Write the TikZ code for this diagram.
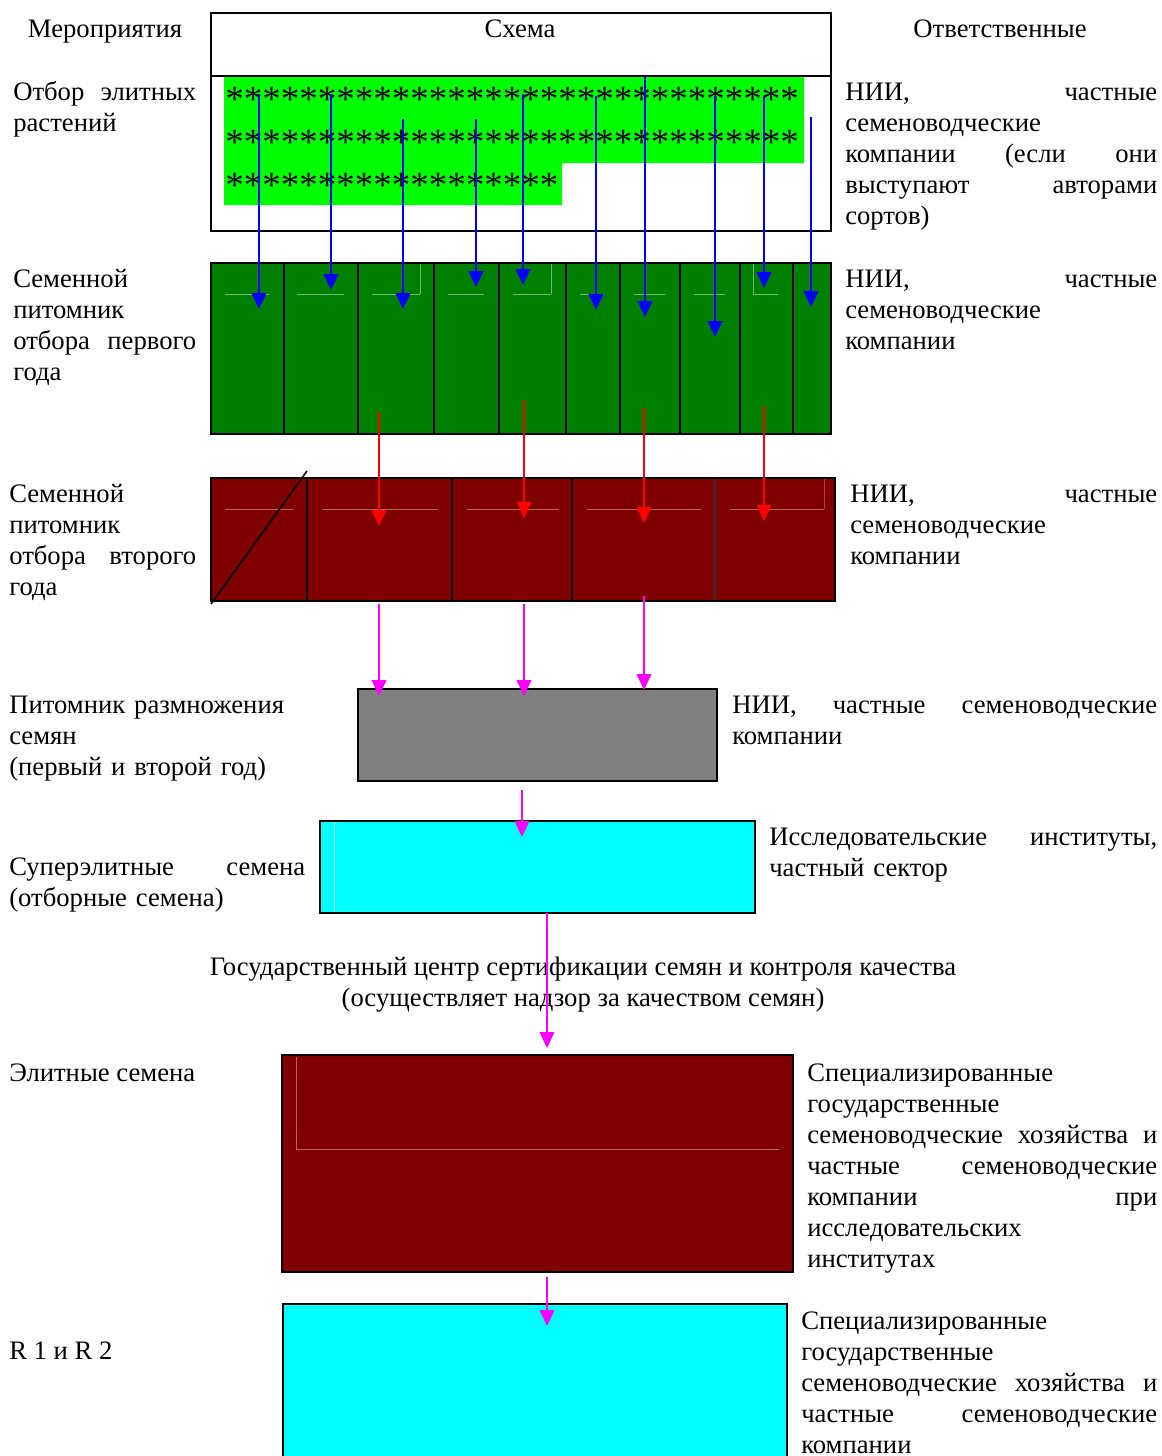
\documentclass[tikz,border=0pt]{standalone}
\usepackage{fontspec}
\setmainfont{Liberation Serif}
\usetikzlibrary{arrows.meta}
\definecolor{seedgreen}{RGB}{0,128,0}
\definecolor{seedlime}{RGB}{0,255,0}
\definecolor{seedred}{RGB}{128,0,0}
\definecolor{seedcyan}{RGB}{0,255,255}
\definecolor{seedgray}{RGB}{128,128,128}
\definecolor{seedblue}{RGB}{0,0,255}
\definecolor{seedscarlet}{RGB}{255,0,0}
\definecolor{seedpink}{RGB}{255,0,255}
\newcommand{\bodyfont}{\fontsize{20}{23.25}\selectfont}
\newcommand{\starfont}{\fontsize{27.75}{28}\selectfont}

\begin{document}
\begin{tikzpicture}[
  x=0.75pt, y=-0.75pt,
  frame/.style={draw=black, line width=1.5pt},
  sep/.style={draw=black, line width=1.5pt},
  ghost/.style={line width=0.6pt},
  arrowbase/.style={line width=1.6pt, -{Triangle[width=11pt,length=12pt]}},
  bluearrow/.style={arrowbase, draw=seedblue},
  redarrow/.style={arrowbase, draw=seedscarlet, line width=1.4pt},
  pinkarrow/.style={arrowbase, draw=seedpink, line width=1.4pt},
  txt/.style={anchor=base west, inner sep=0pt, align=left, font=\bodyfont},
  head/.style={anchor=base, inner sep=0pt, font=\bodyfont},
  stars/.style={anchor=base west, inner sep=0pt, font=\starfont}
]
\useasboundingbox (0,0) rectangle (1162,1456);
\clip (0,0) rectangle (1162,1456);

% column heads
\node[head] (hdact) at (105,37) {Мероприятия};
\node[head] (hdscheme) at (520,37) {Схема};
\node[head] (hdresp) at (1000,37) {Ответственные};

% selection of elite plants
\draw[frame] (211,13) rectangle (831,231);
\draw[frame] (211,76) -- (831,76);
\fill[seedlime] (224,77) -- (804,77) -- (804,163) -- (562,163) -- (562,205) -- (224,205) -- cycle;
\node[stars] (row1) at (225,111) {*******************************};
\node[stars] (row2) at (225,154) {*******************************};
\node[stars] (row3) at (225,197) {******************};

% first year nursery
\fill[seedgreen] (211,263) rectangle (831,434);
\foreach \a/\b in {225/269, 297/344, 372/420, 448/484, 513/551, 580/604, 634/665, 694/725, 753/778}
  \draw[ghost, draw=seedgreen!55!white] (\a,294) -- (\b,294);
\foreach \x in {420,551,753}
  \draw[ghost, draw=seedgreen!55!white] (\x,264) -- (\x,294);
\foreach \x in {284,358,434,499,566,620,680,740,793}
  \draw[sep] (\x,263) -- (\x,434);
\draw[frame] (211,263) rectangle (831,434);

% second year nursery
\fill[seedred] (211,478) rectangle (835,601);
\foreach \a/\b in {225/293, 322/438, 467/559, 587/701, 730/824}
  \draw[ghost, draw=seedred!60!white] (\a,509) -- (\b,509);
\draw[ghost, draw=seedred!75!white] (824,479) -- (824,509);
\foreach \x in {307,452,572}
  \draw[sep] (\x,478) -- (\x,601);
\draw[line width=0.8pt, draw=black!80] (715,478) -- (715,601);
\draw[frame] (211,478) rectangle (835,601);
\draw[line width=1.2pt] (211,604) -- (307,471);

% multiplication, super elite, elite, R1/R2
\draw[frame, fill=seedgray] (358,689) rectangle (717,781);
\draw[frame, fill=seedcyan] (320,821) rectangle (755,913);
\draw[ghost, draw=seedcyan!30!white] (334,822) -- (334,912);
\draw[frame, fill=seedred] (282,1055) rectangle (793,1272);
\draw[ghost, draw=seedred!60!white] (296,1057) -- (296,1149) -- (779,1149);
\draw[frame, fill=seedcyan] (283,1304) rectangle (787,1480);

% left column
\node[txt, text width=137.25pt] (act1) at (13,100) {Отбор\hfill элитных\\растений};
\node[txt, text width=137.25pt] (act2) at (13,287) {Семенной\\питомник\\отбора\hfill первого\\года};
\node[txt, text width=140.25pt] (act3) at (9,502) {Семенной\\питомник\\отбора\hfill второго\\года};
\node[txt, text width=225pt] (act4) at (9,713) {Питомник размножения\\семян\\(первый и второй год)};
\node[txt, text width=222pt] (act5) at (9,875) {Суперэлитные\hfill семена\\(отборные семена)};
\node[txt] (act6) at (9,1081) {Элитные семена};
\node[txt] (act7) at (9,1359) {R 1 и R 2};

% right column
\node[txt, text width=234pt] (resp1) at (845,100) {НИИ,\hfill частные\\семеноводческие\\компании\hfill (если\hfill они\\выступают\hfill авторами\\сортов)};
\node[txt, text width=234pt] (resp2) at (845,287) {НИИ,\hfill частные\\семеноводческие\\компании};
\node[txt, text width=230.25pt] (resp3) at (850,502) {НИИ,\hfill частные\\семеноводческие\\компании};
\node[txt, text width=318.75pt] (resp4) at (732,713) {НИИ,\hfill частные\hfill семеноводческие\\компании};
\node[txt, text width=291pt] (resp5) at (769,845) {Исследовательские\hfill институты,\\частный сектор};
\node[txt, text width=262.5pt] (resp6) at (807,1081) {Специализированные\\государственные\\семеноводческие\hfill хозяйства\hfill и\\частные\hfill семеноводческие\\компании\hfill при\\исследовательских\\институтах};
\node[txt, text width=267pt] (resp7) at (801,1329) {Специализированные\\государственные\\семеноводческие\hfill хозяйства\hfill и\\частные\hfill семеноводческие\\компании};

\node[head, align=center] (gov) at (583,1006) {Государственный центр сертификации семян и контроля качества\\(осуществляет надзор за качеством семян)};

% arrows
\foreach \x/\ya/\yb [count=\i] in {259/94/309, 331/94/290, 403/119/309, 476/119/287, 523/94/285, 596/96/310, 645/76/317, 715/96/337, 764/96/288, 811/117/307} {
  \coordinate (bs\i) at (\x,\ya);
  \coordinate (be\i) at (\x,\yb);
  \draw[bluearrow] (bs\i) -- (be\i);
}
\foreach \x/\ya/\yb [count=\i] in {379/412/526, 524/400/518, 644/408/523, 764/406/521} {
  \coordinate (rs\i) at (\x,\ya);
  \coordinate (re\i) at (\x,\yb);
  \draw[redarrow] (rs\i) -- (re\i);
}
\foreach \x/\ya/\yb [count=\i] in {379/604/696, 524/604/696, 644/596/690, 522/790/837, 547/913/1048, 547/1277/1326} {
  \coordinate (ps\i) at (\x,\ya);
  \coordinate (pe\i) at (\x,\yb);
  \draw[pinkarrow] (ps\i) -- (pe\i);
}
\end{tikzpicture}
\end{document}
